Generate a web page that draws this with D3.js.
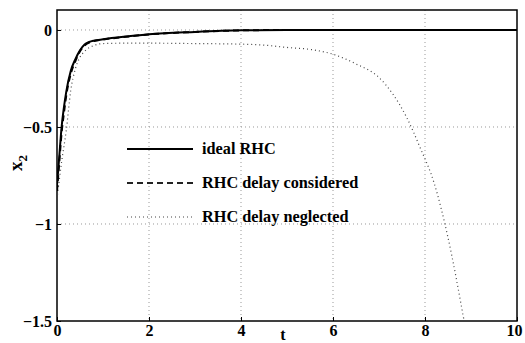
<!DOCTYPE html>
<html>
<head>
<meta charset="utf-8">
<script src="https://cdn.jsdelivr.net/npm/d3@7"></script>
<style>
    body { margin: 0; background: #fff; }
    text { font-family: "Liberation Serif", "Times New Roman", serif; font-weight: bold; }
</style>
</head>
<body>
<div id="chart"></div>
<script>
// data
var tIdeal = [0, 0.05, 0.1, 0.15, 0.2, 0.3, 0.4, 0.5, 0.6, 0.7, 0.8, 1.0, 1.5, 2, 3, 4, 5, 6, 7, 8, 9, 10];
var ideal = [-0.80, -0.65, -0.50, -0.40, -0.32, -0.21, -0.15, -0.105, -0.075, -0.062, -0.055, -0.048, -0.034, -0.022, -0.01, -0.002, 0, 0, 0, 0, 0, 0];
var considered = [-0.83, -0.68, -0.53, -0.43, -0.34, -0.225, -0.16, -0.11, -0.08, -0.065, -0.057, -0.049, -0.035, -0.023, -0.01, -0.002, 0, 0, 0, 0, 0, 0];
var tNeglected = [0, 0.1, 0.2, 0.3, 0.4, 0.5, 0.6, 0.8, 1.0, 1.5, 2, 3, 4, 4.5, 5, 5.5, 6, 6.5, 7, 7.3, 7.6, 7.9, 8.2, 8.5, 8.85];
var neglected = [-0.87, -0.68, -0.52, -0.31, -0.20, -0.14, -0.11, -0.08, -0.07, -0.068, -0.068, -0.07, -0.073, -0.078, -0.09, -0.10, -0.125, -0.175, -0.245, -0.33, -0.45, -0.61, -0.79, -1.07, -1.5];

var xTicks = [0, 2, 4, 6, 8, 10];
var yTicks = [0, -0.5, -1, -1.5];
var legendLabels = ["ideal RHC", "RHC delay considered", "RHC delay neglected"];

var width = 525, height = 343;
var pLeft = 57, pTop = 10, pRight = 517, pBottom = 321;

var svg = d3.select("#chart").append("svg")
    .attr("width", width)
    .attr("height", height);

var x = d3.scaleLinear().domain([0, 10]).range([pLeft, pRight]);
var y = d3.scaleLinear().domain([-1.5, 0.103]).range([pBottom, pTop]);

var fmt = function (d) { return d3.format("")(d).replace("-", "\u2212"); };

//grid
svg.append("g").selectAll("line")
    .data(xTicks.filter(function (d) { return d > 0 && d < 10; }))
    .enter().append("line")
    .attr("x1", function (d) { return x(d); })
    .attr("x2", function (d) { return x(d); })
    .attr("y1", pTop).attr("y2", pBottom)
    .attr("stroke", "#999").attr("stroke-width", 1).attr("stroke-dasharray", "1,3");
svg.append("g").selectAll("line")
    .data(yTicks.filter(function (d) { return d > -1.5; }))
    .enter().append("line")
    .attr("y1", function (d) { return y(d); })
    .attr("y2", function (d) { return y(d); })
    .attr("x1", pLeft).attr("x2", pRight)
    .attr("stroke", "#999").attr("stroke-width", 1).attr("stroke-dasharray", "1,3");

//axes (ticks inside, matlab style)
var xAxis = d3.axisBottom(x).tickValues(xTicks).tickSize(-4).tickPadding(4).tickFormat(fmt);
var yAxis = d3.axisLeft(y).tickValues(yTicks).tickSize(-4).tickPadding(5).tickFormat(fmt);

var gx = svg.append("g").attr("transform", "translate(0," + pBottom + ")").call(xAxis);
var gy = svg.append("g").attr("transform", "translate(" + pLeft + ",0)").call(yAxis);
[gx, gy].forEach(function (g) {
    g.select(".domain").remove();
    g.selectAll("line").attr("stroke", "#000");
    g.selectAll("text").attr("font-size", 16).attr("fill", "#000");
});
gx.selectAll(".tick:last-child text").attr("dx", -3);

//frame
svg.append("rect")
    .attr("x", pLeft).attr("y", pTop)
    .attr("width", pRight - pLeft).attr("height", pBottom - pTop)
    .attr("fill", "none").attr("stroke", "#000").attr("stroke-width", 1.5);

svg.append("clipPath").attr("id", "clip").append("rect")
    .attr("x", pLeft).attr("y", pTop).attr("width", pRight - pLeft).attr("height", pBottom - pTop);

var line = d3.line().curve(d3.curveMonotoneX)
    .x(function (d) { return x(d[0]); })
    .y(function (d) { return y(d[1]); });

var plot = svg.append("g").attr("clip-path", "url(#clip)");
plot.append("path")
    .attr("d", line(d3.zip(tNeglected, neglected)))
    .attr("fill", "none").attr("stroke", "#444").attr("stroke-width", 1.2).attr("stroke-dasharray", "1,3");
plot.append("path")
    .attr("d", line(d3.zip(tIdeal, considered)))
    .attr("fill", "none").attr("stroke", "#000").attr("stroke-width", 2).attr("stroke-dasharray", "6,4");
plot.append("path")
    .attr("d", line(d3.zip(tIdeal, ideal)))
    .attr("fill", "none").attr("stroke", "#000").attr("stroke-width", 2);

//legend
var legendY = [149, 183, 217];
var legendStyle = [
    {dash: null, w: 2, c: "#000"},
    {dash: "6,4", w: 2, c: "#222"},
    {dash: "1,3", w: 1.2, c: "#444"}
];
legendLabels.forEach(function (lbl, i) {
    svg.append("line")
        .attr("x1", 127).attr("x2", 193)
        .attr("y1", legendY[i]).attr("y2", legendY[i])
        .attr("stroke", legendStyle[i].c)
        .attr("stroke-width", legendStyle[i].w)
        .attr("stroke-dasharray", legendStyle[i].dash);
    svg.append("text")
        .attr("x", 202).attr("y", legendY[i] + 5)
        .attr("font-size", 16.3)
        .text(lbl);
});

//axis labels
svg.append("text")
    .attr("x", 283).attr("y", 340)
    .attr("text-anchor", "middle")
    .attr("font-size", 16)
    .text("t");
var yl = svg.append("text")
    .attr("transform", "translate(22,163) rotate(-90)")
    .attr("text-anchor", "middle")
    .attr("font-size", 19);
yl.append("tspan").text("x");
yl.append("tspan").attr("dy", 5).attr("font-size", 13).text("2");
</script>
</body>
</html>
